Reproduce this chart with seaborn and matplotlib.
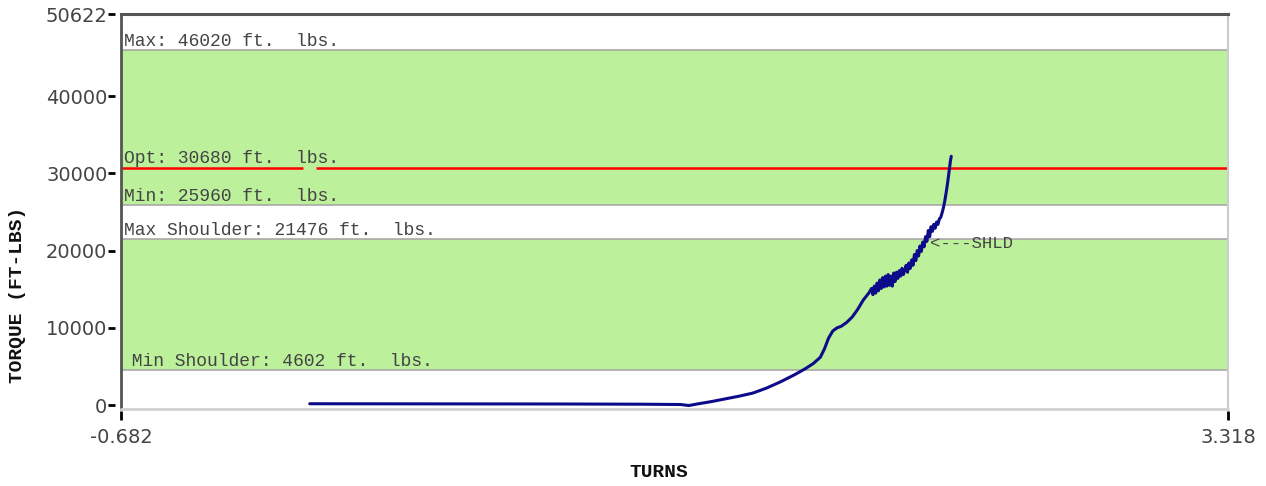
import matplotlib
matplotlib.use("Agg")
import matplotlib.pyplot as plt
import seaborn as sns
import pandas as pd
from matplotlib.lines import Line2D

# torque-turn trace
turns = [0.0, 0.3, 0.6, 0.9, 1.2, 1.34, 1.37, 1.40, 1.45, 1.50, 1.55, 1.60,
         1.65, 1.70, 1.75, 1.79, 1.82, 1.845, 1.86, 1.875, 1.89, 1.905, 1.92,
         1.94, 1.96, 1.98, 2.00, 2.02, 2.03, 2.035, 2.04, 2.045, 2.05, 2.055,
         2.06, 2.065, 2.07, 2.075, 2.08, 2.085, 2.09, 2.095, 2.10, 2.105, 2.11,
         2.115, 2.12, 2.125, 2.13, 2.135, 2.14, 2.145, 2.15, 2.155, 2.16, 2.165,
         2.17, 2.175, 2.18, 2.185, 2.19, 2.195, 2.20, 2.205, 2.21, 2.215, 2.22,
         2.225, 2.23, 2.235, 2.24, 2.245, 2.25, 2.255, 2.26, 2.265, 2.27, 2.275,
         2.28, 2.285, 2.29, 2.295, 2.30, 2.305, 2.31, 2.315, 2.318]
torque = [180, 170, 160, 150, 120, 80, -50, 150, 450, 800, 1150, 1550,
          2200, 3000, 3900, 4700, 5400, 6200, 7300, 8700, 9600, 10000, 10200,
          10700, 11400, 12400, 13600, 14500, 15100, 14300, 15400, 14500, 15800, 14800,
          16200, 15100, 16500, 15300, 16700, 15400, 16900, 15500, 16700, 15400, 17100,
          16000, 17200, 16400, 17400, 16700, 17700, 16900, 17500, 18100, 17200, 18400,
          17700, 18800, 18100, 19500, 18700, 20000, 19300, 20600, 19900, 21100, 20500,
          21800, 21200, 22600, 21800, 23100, 22500, 23400, 22900, 23700, 23400, 24100,
          24300, 24900, 25600, 26500, 27600, 28800, 30200, 31600, 32200]

max_torque = 46020
opt_torque = 30680
min_torque = 25960
max_shoulder = 21476
min_shoulder = 4602
shld_turn = 2.226

x_min, x_max = -0.682, 3.318
y_top = 50622
y_ticks = [0, 10000, 20000, 30000, 40000, 50622]

df = pd.DataFrame({"Turns": turns, "Torque": torque})

sns.set_style("white")
plt.rcParams["font.family"] = ["DejaVu Sans"]
fig = plt.figure(figsize=(12.66, 4.86), dpi=100)
ax = fig.add_axes([121 / 1266, 1 - 409 / 486, 1107 / 1266, 395 / 486])

green = "#bdf09b"
grey = "#a9a9a9"
ax.axhspan(min_shoulder, max_shoulder, color=green, lw=0, zorder=0)
ax.axhspan(min_torque, max_torque, color=green, lw=0, zorder=0)
for v in [max_torque, min_torque, max_shoulder, min_shoulder]:
    ax.axhline(v, color=grey, lw=1.2, zorder=1)
ax.hlines(opt_torque, x_min, -0.024, color="red", lw=1.8, zorder=2)
ax.hlines(opt_torque, 0.023, x_max, color="red", lw=1.8, zorder=2)

sns.lineplot(data=df, x="Turns", y="Torque", ax=ax, color="#0c0c8a", lw=2.2,
             zorder=3, estimator=None, sort=False)

mono = "Liberation Mono"
lbl = dict(family=mono, fontsize=13, color="#444444", va="bottom")
ax.annotate(f"Max: {max_torque} ft.  lbs.", (x_min, max_torque), xytext=(2, 0),
            textcoords="offset points", **lbl)
ax.annotate(f"Opt: {opt_torque} ft.  lbs.", (x_min, opt_torque), xytext=(2, 1),
            textcoords="offset points", **lbl)
ax.annotate(f"Min: {min_torque} ft.  lbs.", (x_min, min_torque), xytext=(2, 0),
            textcoords="offset points", **lbl)
ax.annotate(f"Max Shoulder: {max_shoulder} ft.  lbs.", (x_min, max_shoulder),
            xytext=(2, 0), textcoords="offset points", **lbl)
ax.annotate(f" Min Shoulder: {min_shoulder} ft.  lbs.", (x_min, min_shoulder),
            xytext=(0, 0), textcoords="offset points", **lbl)
ax.annotate("<---SHLD", (shld_turn, max_shoulder), xytext=(3, -3),
            textcoords="offset points", family=mono, fontsize=12.5,
            color="#444444", va="center", ha="left")

ax.set_xlim(x_min, x_max)
ax.set_ylim(-500, y_top)
ax.set_xticks([x_min, x_max], [f"{x_min:.3f}", f"{x_max:.3f}"])
ax.set_yticks(y_ticks, [str(t) for t in y_ticks])

ax.tick_params(axis="y", direction="out", length=5, width=2, color="black",
               pad=0.5, left=True, labelsize=14, labelcolor="#444444")
ax.tick_params(axis="x", direction="out", length=6.5, width=2, color="black",
               pad=6, bottom=True, labelsize=14, labelcolor="#444444")

# spines: ticks sit a little away from the axis line
ax.spines["left"].set_position(("outward", 4.3))
ax.spines["left"].set_visible(False)
ax.add_line(Line2D([0, 0], [0, 1], transform=ax.transAxes, color="#555555",
                   lw=2, clip_on=False, zorder=5))
ax.spines["bottom"].set_position(("outward", 1.5))
ax.spines["bottom"].set_visible(False)
ax.add_line(Line2D([0, 1], [0, 0], transform=ax.transAxes, color="#d0d0d0",
                   lw=2, clip_on=False, zorder=5))
ax.spines["top"].set_color("#555555")
ax.spines["top"].set_linewidth(2.2)
ax.spines["right"].set_color("#cccccc")
ax.spines["right"].set_linewidth(1.5)

ax.set_xlabel("")
ax.set_ylabel("")
fig.text(659 / 1266, 1 - 472 / 486, "TURNS", family=mono, fontweight="bold",
         fontsize=14, color="#111111", ha="center", va="center")
fig.text(18 / 1266, 1 - 295 / 486, "TORQUE (FT-LBS)", family=mono,
         fontweight="bold", fontsize=14, color="#111111", ha="center",
         va="center", rotation=90)

fig.savefig("out.png", dpi=100)
